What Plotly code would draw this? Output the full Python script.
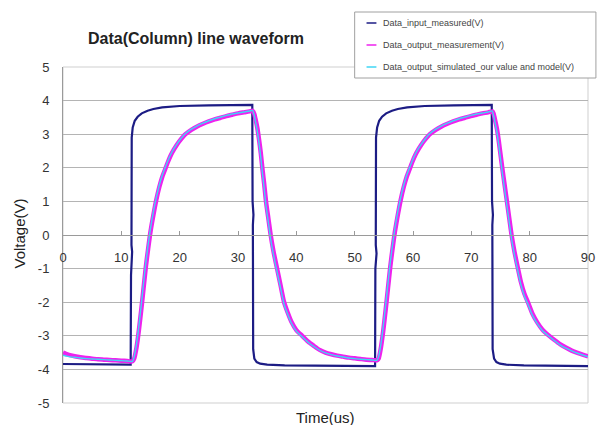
import plotly.graph_objects as go

# ---------------- data ----------------
SERIES_NAMES = ["Data_input_measured(V)",
                "Data_output_measurement(V)",
                "Data_output_simulated_our value and model(V)"]
TITLE = "Data(Column) line waveform"
X_TITLE = "Time(us)"
Y_TITLE = "Voltage(V)"

X_TICKS = [0, 10, 20, 30, 40, 50, 60, 70, 80, 90]
Y_TICKS = [5, 4, 3, 2, 1, 0, -1, -2, -3, -4, -5]
Y_TICK_TEXT = ["5", "4", "3", "2", "1", "0", "-1", "-2", "-3", "-4", "-5"]

# input (square wave) time / voltage
T_IN = [0, 3, 6, 9, 11.6,
        11.66, 11.72, 11.85, 11.74, 11.78,
        11.95, 12.3, 12.8, 13.5, 14.5, 15.5, 17, 20, 25, 30,
        32.45, 32.5, 32.65, 32.55, 32.6,
        32.8, 33.2, 33.8, 35, 38, 42, 48, 53.5,
        53.55, 53.6, 53.75, 53.62, 53.66,
        53.85, 54.2, 54.7, 55.4, 56.4, 57.4, 59, 62, 67, 73.5,
        73.55, 73.7, 73.6, 73.65,
        73.9, 74.3, 74.9, 76, 79, 84, 90]
V_IN = [-3.84, -3.85, -3.86, -3.86, -3.86,
        -1.2, -0.75, -0.5, -0.3, 2.9,
        3.2, 3.4, 3.52, 3.62, 3.7, 3.75, 3.8, 3.84, 3.86, 3.87,
        3.87, 1.0, 0.6, 0.3, -3.4,
        -3.68, -3.78, -3.83, -3.86, -3.88, -3.89, -3.9, -3.9,
        -1.0, -0.85, -0.55, -0.3, 2.9,
        3.2, 3.4, 3.52, 3.62, 3.7, 3.75, 3.8, 3.84, 3.86, 3.87,
        1.0, 0.6, 0.3, -3.4,
        -3.68, -3.78, -3.83, -3.86, -3.88, -3.89, -3.9]

# output time axis (shared by measured and simulated)
T_OUT = [0, 0.5, 1, 2, 3, 4, 5, 6, 7, 8, 9, 10, 11, 11.9,
         12.2, 12.6, 13.0, 13.4, 13.8, 14.2, 14.6, 15.0, 15.5, 16,
         16.5, 17, 17.5, 18, 18.5, 19, 19.5, 20, 21, 22,
         23, 24, 25, 26, 27, 28, 29, 30, 31, 32, 32.5,
         32.8, 33.0, 33.3, 33.6, 33.9, 34.2, 34.5, 34.8, 35.2, 35.6,
         36.1, 36.7, 37.3, 37.9, 38.5, 39.2, 40, 41, 42, 43,
         44, 45, 46, 47, 48, 49, 50, 51, 52, 53, 53.8,
         54.1, 54.5, 54.9, 55.3, 55.7, 56.1, 56.5, 56.9, 57.4, 57.9,
         58.4, 58.9, 59.4, 59.9, 60.4, 60.9, 61.4, 61.9,
         62.9, 63.9, 64.9, 65.9, 66.9, 67.9, 68.9, 69.9, 70.9, 71.9, 72.9, 73.6,
         73.8, 74.1, 74.4, 74.7, 75.0, 75.3, 75.7, 76.1, 76.5, 76.9,
         77.4, 78.0, 78.5, 79.1, 79.7, 80.5, 81.3, 82.2, 83.2, 84.2,
         85.2, 86.2, 87.2, 88.2, 89.2, 90]

V_MEAS = [-3.50, -3.54, -3.57, -3.61, -3.64, -3.66, -3.68, -3.70, -3.71, -3.72, -3.73, -3.74, -3.75, -3.76,
          -3.68, -3.35, -2.85, -2.25, -1.6, -0.95, -0.4, 0.1, 0.6, 1.05,
          1.42, 1.72, 1.95, 2.18, 2.38, 2.54, 2.68, 2.8, 3.0, 3.13,
          3.23, 3.31, 3.38, 3.44, 3.49, 3.54, 3.58, 3.62, 3.65, 3.68, 3.70,
          3.6, 3.45, 3.2, 2.85, 2.45, 1.95, 1.5, 1.0, 0.5, 0.0,
          -0.5, -1.0, -1.5, -2.0, -2.3, -2.6, -2.83, -3.0, -3.17, -3.3,
          -3.42, -3.5, -3.55, -3.59, -3.62, -3.65, -3.67, -3.69, -3.71, -3.72, -3.73,
          -3.68, -3.35, -2.85, -2.25, -1.6, -0.95, -0.4, 0.1, 0.6, 1.05,
          1.42, 1.72, 1.95, 2.18, 2.38, 2.54, 2.68, 2.8,
          3.0, 3.13, 3.23, 3.31, 3.38, 3.44, 3.49, 3.54, 3.58, 3.62, 3.65, 3.68,
          3.62, 3.4, 3.15, 2.8, 2.4, 2.0, 1.5, 1.0, 0.5, 0.0,
          -0.5, -1.0, -1.4, -1.75, -2.0, -2.35, -2.6, -2.82, -2.98, -3.12,
          -3.25, -3.35, -3.44, -3.51, -3.57, -3.61]

V_SIM = [-3.58, -3.60, -3.62, -3.64, -3.66, -3.68, -3.69, -3.70, -3.71, -3.72, -3.73, -3.74, -3.75, -3.76,
         -3.62, -3.25, -2.72, -2.1, -1.45, -0.82, -0.28, 0.2, 0.7, 1.12,
         1.48, 1.77, 2.0, 2.22, 2.41, 2.57, 2.7, 2.82, 3.02, 3.15,
         3.25, 3.33, 3.40, 3.46, 3.51, 3.56, 3.60, 3.63, 3.66, 3.69, 3.71,
         3.55, 3.38, 3.1, 2.74, 2.32, 1.82, 1.37, 0.87, 0.38, -0.12,
         -0.6, -1.1, -1.58, -2.06, -2.35, -2.64, -2.86, -3.03, -3.19, -3.32,
         -3.43, -3.51, -3.56, -3.60, -3.63, -3.66, -3.68, -3.70, -3.71, -3.72, -3.73,
         -3.62, -3.25, -2.72, -2.1, -1.45, -0.82, -0.28, 0.2, 0.7, 1.12,
         1.48, 1.77, 2.0, 2.22, 2.41, 2.57, 2.7, 2.82,
         3.02, 3.15, 3.25, 3.33, 3.40, 3.46, 3.51, 3.56, 3.60, 3.63, 3.66, 3.69,
         3.56, 3.32, 3.05, 2.68, 2.27, 1.86, 1.37, 0.87, 0.38, -0.12,
         -0.6, -1.1, -1.48, -1.82, -2.06, -2.4, -2.64, -2.85, -3.0, -3.14,
         -3.27, -3.37, -3.45, -3.52, -3.58, -3.62]

COLORS = ["#1c1c84", "#ee22ee", "#3fd6f4"]

# ---------------- layout geometry (pixels) ----------------
W, H = 607, 425
PL, PR, PT, PB = 63, 594, 67, 403   # plot area edges in px


def px2x(px):
    return (px - PL) / (PR - PL)


def px2y(py):
    return (PB - py) / (PB - PT)


FONT = "Arial, Liberation Sans, sans-serif"

fig = go.Figure()
fig.add_trace(go.Scatter(x=T_IN, y=V_IN, mode="lines", name=SERIES_NAMES[0],
                         line=dict(color=COLORS[0], width=2.2), showlegend=False))
fig.add_trace(go.Scatter(x=T_OUT, y=V_MEAS, mode="lines", name=SERIES_NAMES[1],
                         line=dict(color=COLORS[1], width=4.5, shape="spline", smoothing=0.6),
                         showlegend=False))
fig.add_trace(go.Scatter(x=T_OUT, y=V_SIM, mode="lines", name=SERIES_NAMES[2],
                         line=dict(color=COLORS[2], width=1.4, shape="spline", smoothing=0.6),
                         showlegend=False))

fig.update_layout(
    width=W, height=H,
    margin=dict(l=PL, r=W - PR, t=PT, b=H - PB),
    paper_bgcolor="white", plot_bgcolor="white",
    font=dict(family=FONT, color="#333333"),
    xaxis=dict(range=[0, 90], tickvals=X_TICKS, anchor="free", position=0.5,
               showgrid=False, zeroline=False, showline=True, linecolor="#9a9a9a",
               linewidth=1, ticks="inside", ticklen=4, tickcolor="#9a9a9a",
               tickfont=dict(size=13, color="#333333"), ticklabelstandoff=10),
    yaxis=dict(range=[-5, 5], tickvals=Y_TICKS, ticktext=Y_TICK_TEXT,
               showgrid=True, gridcolor="#b4b4b4", gridwidth=1, zeroline=False,
               showline=True, linecolor="#9a9a9a", linewidth=1, ticks="",
               tickfont=dict(size=13, color="#333333"), ticklabelstandoff=10),
)

shapes = [
    # plot area frame
    dict(type="rect", xref="paper", yref="paper", x0=0, x1=1, y0=0, y1=1,
         line=dict(color="#cfcfcf", width=1), layer="below"),
    # legend box
    dict(type="rect", xref="paper", yref="paper",
         x0=px2x(358), x1=px2x(602), y0=px2y(78), y1=px2y(12),
         line=dict(color="#a0a0a0", width=1), fillcolor="white", layer="above"),
]
annotations = [
    dict(text="<b>" + TITLE + "</b>", xref="paper", yref="paper",
         x=px2x(198), y=px2y(38), xanchor="center", yanchor="middle",
         showarrow=False, font=dict(size=16, color="#222222")),
    dict(text=X_TITLE, xref="paper", yref="paper", x=px2x(328), y=px2y(417),
         xanchor="center", yanchor="middle", showarrow=False,
         font=dict(size=15, color="#222222")),
    dict(text=Y_TITLE, xref="paper", yref="paper", x=px2x(19), y=px2y(233),
         xanchor="center", yanchor="middle", textangle=-90, showarrow=False,
         font=dict(size=15, color="#222222")),
]
LEG_Y = [23, 45, 67]
for name, col, ly in zip(SERIES_NAMES, COLORS, LEG_Y):
    shapes.append(dict(type="line", xref="paper", yref="paper",
                       x0=px2x(370), x1=px2x(380), y0=px2y(ly), y1=px2y(ly),
                       line=dict(color=col, width=1.5), layer="above"))
    annotations.append(dict(text=name, xref="paper", yref="paper",
                            x=px2x(385), y=px2y(ly), xanchor="left", yanchor="middle",
                            showarrow=False, font=dict(size=9, color="#444444")))

fig.update_layout(shapes=shapes, annotations=annotations)
fig.write_html("out.html")
